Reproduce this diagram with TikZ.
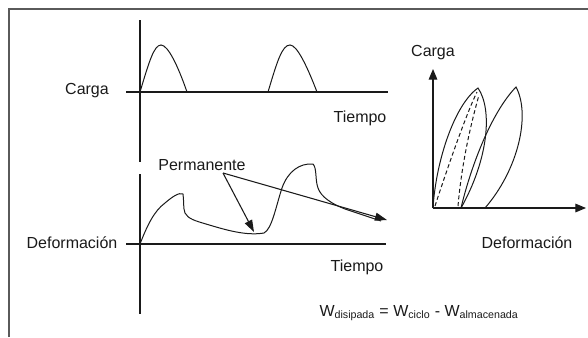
\documentclass[tikz,border=0pt]{standalone}
\usepackage{fontspec}
\setmainfont{Liberation Sans}
\usepackage{tikz}
\usetikzlibrary{arrows.meta,positioning,calc}
\definecolor{plotInk}{HTML}{1A1A1A}
\definecolor{frameGray}{HTML}{5A5A5A}
\tikzset{
  axisLine/.style={line width=0.8pt, draw=plotInk},
  curveLine/.style={line width=0.75pt, draw=plotInk},
  dashLine/.style={line width=0.75pt, draw=plotInk, dash pattern=on 3pt off 2pt},
  axisArrow/.style={-{Triangle[length=8pt,width=6.5pt]}, line width=0.8pt, draw=plotInk},
  noteArrow/.style={-{Triangle[length=9pt,width=6pt]}, line width=0.8pt, draw=plotInk},
  plotLabel/.style={font=\fontsize{12}{14}\selectfont, text=plotInk, inner sep=1pt}
}
\begin{document}
\begin{tikzpicture}[x=0.75pt, y=-0.75pt]
    \useasboundingbox (0,0) rectangle (588,337);
    % frame
    \draw[frameGray, line width=1.2pt] (9,337) -- (9,9) -- (588,9);

    % load vs time
    \coordinate (cargaTop) at (140,20);
    \coordinate (cargaBot) at (140,162);
    \coordinate (cargaL) at (126,92);
    \coordinate (cargaR) at (388,92);
    \draw[axisLine] (cargaTop) -- (cargaBot);
    \draw[axisLine] (cargaL) -- (cargaR);
    \draw[curveLine] (140,92) .. controls (149,62) and (154,45) .. (161,45)
      .. controls (168,45) and (178,66) .. (187,92);
    \draw[curveLine] (268,92) .. controls (277,62) and (282,45) .. (290,45)
      .. controls (297,45) and (307,66) .. (317,92);
    \node[plotLabel] (carga) at (87,91) {Carga};
    \node[plotLabel] (tiempoA) at (360,118) {Tiempo};

    % strain vs time
    \coordinate (defTop) at (140,174);
    \coordinate (defBot) at (140,314);
    \coordinate (defL) at (126,244);
    \coordinate (defR) at (386,244);
    \draw[axisLine] (defTop) -- (defBot);
    \draw[axisLine] (defL) -- (defR);
    \draw[curveLine] (140,244) .. controls (147,226) and (154,211) .. (165,203)
      .. controls (172,197) and (179,192) .. (183,194)
      .. controls (184,200) and (183,208) .. (185,213)
      .. controls (188,219) and (196,221) .. (206,224)
      .. controls (226,230) and (246,236) .. (264,233)
      .. controls (272,229) and (276,206) .. (282,188)
      .. controls (288,171) and (300,163) .. (313,164)
      .. controls (317,168) and (315,180) .. (318,188)
      .. controls (321,197) and (332,204) .. (345,209)
      .. controls (360,214) and (372,218) .. (381,221);
    \node[plotLabel] (defLabel) at (72,243) {Deformación};
    \node[plotLabel] (tiempoB) at (357,267) {Tiempo};
    \node[plotLabel] (perm) at (202,165) {Permanente};
    \coordinate (permFoot) at (223,173);
    \coordinate (minPt) at (254,232);
    \coordinate (tailPt) at (387,220);
    \draw[noteArrow] (permFoot) -- (minPt);
    \draw[noteArrow] (permFoot) -- (tailPt);

    % load vs strain
    \coordinate (origin) at (433,208);
    \coordinate (yTip) at (433,69);
    \coordinate (xTip) at (586,208);
    \draw[axisArrow] (origin) -- (yTip);
    \draw[axisArrow] (origin) -- (xTip);
    \draw[curveLine] (433,208) .. controls (436,160) and (455,104) .. (478,88)
      .. controls (493,110) and (488,160) .. (461,208);
    \draw[curveLine] (461,208) .. controls (470,170) and (490,114) .. (516,87)
      .. controls (531,115) and (518,170) .. (485,208);
    \draw[dashLine] (435,206) .. controls (450,160) and (468,110) .. (477,92);
    \draw[dashLine] (458,206) .. controls (462,160) and (472,120) .. (479,95);
    \node[plotLabel] (cargaY) at (433,53) {Carga};
    \node[plotLabel] (defX) at (527,243) {Deformación};

    \node[plotLabel] (work) at (419,313)
      {W\textsubscript{disipada} = W\textsubscript{ciclo} - W\textsubscript{almacenada}};
  \end{tikzpicture}
\end{document}
